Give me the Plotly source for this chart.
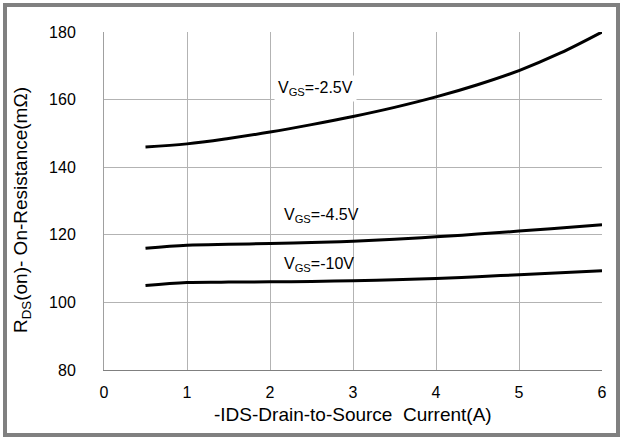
import plotly.graph_objects as go

x_vals = [0.5, 1, 1.5, 2, 2.5, 3, 3.5, 4, 4.5, 5, 5.5, 6]
r_25 = [146.0, 146.9, 148.5, 150.4, 152.6, 155.0, 157.7, 160.8, 164.4, 168.6, 173.8, 180.0]
r_45 = [116.0, 116.9, 117.2, 117.4, 117.7, 118.1, 118.7, 119.4, 120.2, 121.1, 122.0, 123.0]
r_10 = [105.0, 105.9, 106.0, 106.1, 106.2, 106.4, 106.7, 107.1, 107.6, 108.2, 108.8, 109.4]

series = [("VGS=-2.5V", r_25), ("VGS=-4.5V", r_45), ("VGS=-10V", r_10)]
x_ticks = [0, 1, 2, 3, 4, 5, 6]
y_ticks = [80, 100, 120, 140, 160, 180]

font = "Liberation Sans, Arial, sans-serif"

fig = go.Figure()
for name, ys in series:
    fig.add_trace(go.Scatter(x=x_vals, y=ys, mode="lines", name=name,
                             line=dict(color="black", width=3, shape="spline"),
                             showlegend=False))

W, H = 623, 440
ml, mr, mt, mb = 104, 21, 32, 70
pw, ph = W - ml - mr, H - mt - mb

fig.update_layout(
    width=W, height=H,
    margin=dict(l=ml, r=mr, t=mt, b=mb),
    paper_bgcolor="white", plot_bgcolor="white",
    font=dict(family=font, size=17, color="black"),
    xaxis=dict(range=[0, 6], tickvals=x_ticks, showgrid=True, gridcolor="#b3b3b3",
               gridwidth=1, zeroline=False, showline=True, linecolor="#808080",
               linewidth=1, ticks="", ticklabelstandoff=8,
               tickfont=dict(size=16)),
    yaxis=dict(range=[80, 180], tickvals=y_ticks, showgrid=True, gridcolor="#b3b3b3",
               gridwidth=1, zeroline=False, showline=True, linecolor="#a0a0a0",
               linewidth=1, ticks="", ticklabelstandoff=24,
               tickfont=dict(size=16)),
)

fig.add_annotation(text="-IDS-Drain-to-Source\u00a0\u00a0Current(A)", xref="paper", yref="paper",
                   x=(353 - ml) / pw, y=-(414 - (mt + ph)) / ph, showarrow=False,
                   font=dict(size=19), xanchor="center", yanchor="middle")
fig.add_annotation(text="R<sub>DS</sub>(on)- On-Resistance(mΩ)", xref="paper", yref="paper",
                   x=-(ml - 22) / pw, y=1 - (210 - mt) / ph, textangle=-90, showarrow=False,
                   font=dict(size=19), xanchor="center", yanchor="middle")

fig.add_annotation(text="V<sub>GS</sub>=-2.5V", x=2.05, y=163.4, xanchor="left", yanchor="middle",
                   showarrow=False, bgcolor="white", borderpad=3, font=dict(size=16))
fig.add_annotation(text="V<sub>GS</sub>=-4.5V", x=2.15, y=125.8, xanchor="left", yanchor="middle",
                   showarrow=False, font=dict(size=16))
fig.add_annotation(text="V<sub>GS</sub>=-10V", x=2.15, y=111.2, xanchor="left", yanchor="middle",
                   showarrow=False, font=dict(size=16))

# outer gray frame
fig.add_shape(type="rect", xref="paper", yref="paper",
              x0=-(ml - 5) / pw, x1=1 + (mr - 5) / pw,
              y0=-(mb - 5) / ph, y1=1 + (mt - 5) / ph,
              line=dict(color="#808080", width=4), layer="above")

fig.write_html("out.html", config={"displayModeBar": False},
               post_script="document.body.style.margin='0';document.body.style.overflow='hidden';")
